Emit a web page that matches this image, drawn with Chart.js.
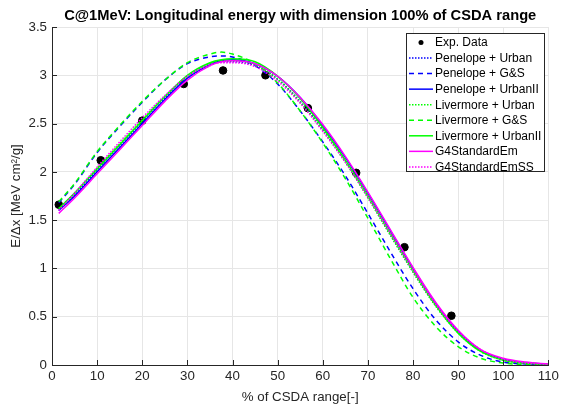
<!DOCTYPE html>
<html>
<head>
<meta charset="utf-8">
<script src="https://cdn.jsdelivr.net/npm/chart.js@4.4.0/dist/chart.umd.min.js"></script>
<style>
  html, body { margin: 0; padding: 0; background: #fff; }
  #wrap { width: 562px; height: 409px; }
</style>
</head>
<body>
<div id="wrap"><canvas id="c" width="562" height="409"></canvas></div>
<script>
// chart text + ticks
const TITLE = 'C@1MeV: Longitudinal energy with dimension 100% of CSDA range';
const xTicks = [0, 10, 20, 30, 40, 50, 60, 70, 80, 90, 100, 110];
const yTicks = [0, 0.5, 1, 1.5, 2, 2.5, 3, 3.5];

// measured points
const expX = [1.5, 10.8, 20, 29.2, 37.9, 47.3, 56.7, 67.4, 78.1, 88.5];
const expY = [1.66, 2.12, 2.53, 2.91, 3.05, 3.0, 2.66, 1.99, 1.22, 0.51];

// simulations, all sampled on the same depth grid
const simX = [1.5, 5, 10, 15, 20, 25, 30, 35, 37.5, 40, 45, 50, 55, 60, 65, 70, 75, 80, 85, 90, 95, 100, 105, 110];
const penUrban   = [1.60, 1.76, 2.02, 2.27, 2.52, 2.76, 2.97, 3.10, 3.14, 3.14, 3.10, 2.96, 2.73, 2.44, 2.11, 1.74, 1.35, 0.97, 0.62, 0.34, 0.15, 0.06, 0.02, 0.01];
const penGS      = [1.68, 1.87, 2.20, 2.47, 2.72, 2.95, 3.12, 3.19, 3.20, 3.19, 3.10, 2.91, 2.63, 2.31, 1.96, 1.57, 1.17, 0.79, 0.47, 0.24, 0.10, 0.03, 0.01, 0.00];
const penUrbanII = [1.60, 1.75, 2.00, 2.25, 2.50, 2.75, 2.97, 3.11, 3.15, 3.16, 3.12, 2.99, 2.77, 2.48, 2.15, 1.78, 1.39, 1.00, 0.64, 0.35, 0.15, 0.06, 0.02, 0.01];
const livUrban   = [1.62, 1.78, 2.04, 2.29, 2.54, 2.78, 2.99, 3.12, 3.15, 3.15, 3.11, 2.96, 2.72, 2.43, 2.10, 1.73, 1.34, 0.96, 0.61, 0.33, 0.14, 0.05, 0.02, 0.01];
const livGS      = [1.69, 1.88, 2.21, 2.48, 2.73, 2.95, 3.13, 3.22, 3.24, 3.22, 3.12, 2.92, 2.63, 2.30, 1.93, 1.52, 1.10, 0.70, 0.40, 0.19, 0.07, 0.02, 0.005, 0.00];
const livUrbanII = [1.62, 1.78, 2.03, 2.28, 2.53, 2.78, 3.00, 3.13, 3.16, 3.17, 3.14, 2.99, 2.76, 2.46, 2.12, 1.75, 1.36, 0.98, 0.62, 0.33, 0.14, 0.05, 0.02, 0.01];
const stdEm      = [1.57, 1.73, 1.98, 2.23, 2.48, 2.73, 2.95, 3.10, 3.14, 3.15, 3.12, 2.99, 2.77, 2.49, 2.16, 1.79, 1.40, 1.01, 0.65, 0.36, 0.16, 0.07, 0.03, 0.01];
const stdEmSS    = [1.60, 1.78, 2.05, 2.31, 2.56, 2.79, 2.99, 3.11, 3.13, 3.13, 3.09, 2.94, 2.71, 2.42, 2.10, 1.74, 1.36, 0.98, 0.63, 0.35, 0.16, 0.06, 0.02, 0.01];

const FONT = '"Liberation Sans", Arial, Helvetica, sans-serif';
const INK = '#262626';
const DOT = [1.5, 1.5], DASH = [5, 4];

const pts = (xs, ys) => xs.map((x, i) => ({ x: x, y: ys[i] }));
function sim(label, ys, color, dash, order) {
  return { label, data: pts(simX, ys), borderColor: color, backgroundColor: color,
    borderDash: dash, borderWidth: 1.5, pointRadius: 0, showLine: true,
    cubicInterpolationMode: 'monotone', order };
}

const datasets = [
  { label: 'Exp. Data', data: pts(expX, expY), showLine: false, pointRadius: 3.8,
    pointBackgroundColor: '#000', pointBorderColor: '#000', order: 10 },
  sim('Penelope + Urban',    penUrban,   '#0000ff', DOT,  8),
  sim('Penelope + G&S',      penGS,      '#0000ff', DASH, 7),
  sim('Penelope + UrbanII',  penUrbanII, '#0000ff', [],   6),
  sim('Livermore + Urban',   livUrban,   '#00ff00', DOT,  5),
  sim('Livermore + G&S',     livGS,      '#00ff00', DASH, 4),
  sim('Livermore + UrbanII', livUrbanII, '#00ff00', [],   3),
  sim('G4StandardEm',        stdEm,      '#ff00ff', [],   2),
  sim('G4StandardEmSS',      stdEmSS,    '#ff00ff', DOT,  1)
];

// title, inward ticks and legend box, matlab style
const decor = {
  id: 'decor',
  afterDraw(chart) {
    const { ctx, chartArea: a, scales: { x, y } } = chart;
    ctx.save();
    ctx.fillStyle = '#000';
    ctx.font = 'bold 14.7px ' + FONT;
    ctx.textAlign = 'center';
    ctx.textBaseline = 'middle';
    ctx.fillText(TITLE, (a.left + a.right) / 2, 16);

    ctx.strokeStyle = INK;
    ctx.lineWidth = 1;
    ctx.beginPath();
    xTicks.forEach(v => { const p = Math.round(x.getPixelForValue(v)) + 0.5; ctx.moveTo(p, a.bottom); ctx.lineTo(p, a.bottom - 5); });
    yTicks.forEach(v => { const p = Math.round(y.getPixelForValue(v)) + 0.5; ctx.moveTo(a.left, p); ctx.lineTo(a.left + 5, p); });
    ctx.stroke();

    // legend
    const bx = 406.5, by = 33.5, bw = 138, bh = 138;
    ctx.fillStyle = '#fff';
    ctx.fillRect(bx, by, bw, bh);
    ctx.strokeStyle = '#262626';
    ctx.strokeRect(bx, by, bw, bh);
    ctx.font = '12px ' + FONT;
    ctx.textAlign = 'left';
    datasets.forEach((d, i) => {
      const ry = 42.5 + i * 15.55;
      if (!d.showLine) {
        ctx.fillStyle = '#000';
        ctx.beginPath(); ctx.arc(421, ry, 2.5, 0, Math.PI * 2); ctx.fill();
      } else {
        ctx.strokeStyle = d.borderColor;
        ctx.lineWidth = 1.5;
        ctx.setLineDash(d.borderDash);
        ctx.beginPath(); ctx.moveTo(409, ry); ctx.lineTo(433, ry); ctx.stroke();
        ctx.setLineDash([]);
      }
      ctx.fillStyle = '#000';
      ctx.fillText(d.label, 435, ry + 0.5);
    });
    ctx.restore();
  }
};

const tickFont = { family: FONT, size: 13.3 };
new Chart(document.getElementById('c'), {
  type: 'scatter',
  data: { datasets },
  plugins: [decor],
  options: {
    responsive: false, animation: false,
    layout: { padding: { top: 27, right: 13, left: 0, bottom: 0 } },
    plugins: { legend: { display: false }, tooltip: { enabled: false }, title: { display: false } },
    scales: {
      x: {
        type: 'linear', min: 0, max: 110,
        afterBuildTicks: s => { s.ticks = xTicks.map(v => ({ value: v })); },
        afterFit: s => { s.height = 44; },
        ticks: { color: INK, font: tickFont, padding: 3, maxRotation: 0, callback: v => String(v) },
        grid: { color: '#e6e6e6', drawTicks: false },
        border: { display: true, color: INK, width: 1 },
        title: { display: true, text: '% of CSDA range[-]', color: INK, font: tickFont, padding: { top: 0, bottom: 4 } }
      },
      y: {
        type: 'linear', min: 0, max: 3.5,
        afterBuildTicks: s => { s.ticks = yTicks.map(v => ({ value: v })); },
        afterFit: s => { s.width = 52; },
        ticks: { color: INK, font: tickFont, padding: 5, callback: v => String(v) },
        grid: { color: '#e6e6e6', drawTicks: false },
        border: { display: true, color: INK, width: 1 },
        title: { display: true, text: 'E/\u0394x [MeV cm\u00b2/g]', color: INK, font: tickFont, padding: { top: 8, bottom: 0 } }
      }
    }
  }
});
</script>
</body>
</html>
